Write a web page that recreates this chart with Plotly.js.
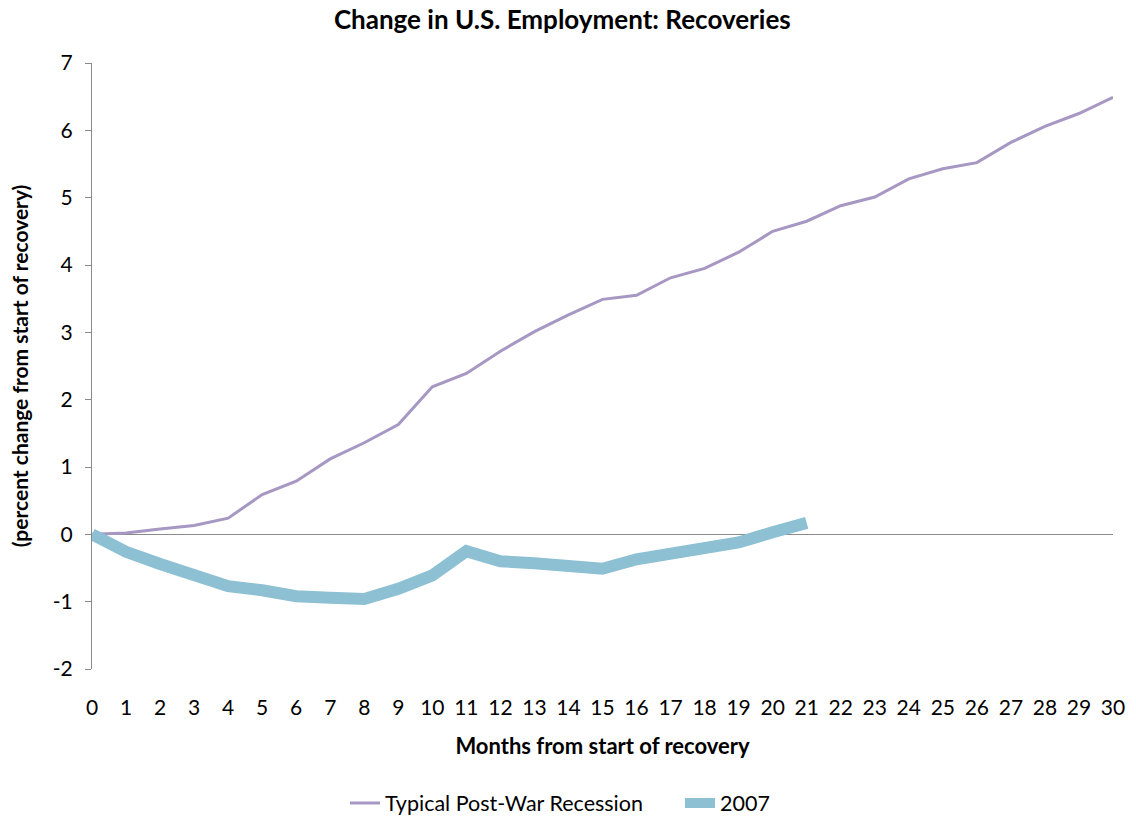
<!DOCTYPE html>
<html>
<head>
<meta charset="utf-8">
<script src="https://cdn.plot.ly/plotly-3.0.1.min.js"></script>
<style>html,body{margin:0;padding:0;background:#fff}#chart{width:1136px;height:821px}</style>
</head>
<body>
<div id="chart"></div>
<script>
const months = [0,1,2,3,4,5,6,7,8,9,10,11,12,13,14,15,16,17,18,19,20,21,22,23,24,25,26,27,28,29,30];
const typicalRecession = [0,0.02,0.08,0.13,0.24,0.59,0.79,1.12,1.36,1.63,2.19,2.39,2.72,3.01,3.26,3.49,3.55,3.81,3.95,4.19,4.50,4.65,4.88,5.01,5.28,5.43,5.52,5.82,6.06,6.25,6.49];
const months2007 = [0,1,2,3,4,5,6,7,8,9,10,11,12,13,14,15,16,17,18,19,20,21];
const recovery2007 = [0,-0.26,-0.44,-0.62,-0.77,-0.83,-0.92,-0.94,-0.96,-0.81,-0.61,-0.25,-0.40,-0.43,-0.47,-0.51,-0.37,-0.29,-0.17,-0.12,0.03,0.17];
const seriesNames = ["Typical Post-War Recession", "2007"];
const xTickVals = months;
const xTickText = months.map(String);
const yTickVals = [-2,-1,0,1,2,3,4,5,6,7];
const yTickText = ["-2","-1","0","1","2","3","4","5","6","7"];

const FONT = "Lato, 'Open Sans', sans-serif";
const traces = [
  {x: months, y: typicalRecession, name: seriesNames[0], mode: "lines",
   line: {color: "#a697c3", width: 3}},
  {x: months2007, y: recovery2007, name: seriesNames[1], mode: "lines",
   line: {color: "#8dc0d3", width: 12}}
];
const layout = {
  width: 1136, height: 821,
  paper_bgcolor: "#fff", plot_bgcolor: "#fff",
  margin: {l: 92, r: 23, t: 63, b: 152},
  font: {family: FONT, color: "#000", size: 21},
  title: {text: "<b>Change in U.S. Employment: Recoveries</b>", font: {size: 26, family: FONT, color: "#000"},
          x: 0.495, xanchor: "center", yref: "container", y: 1 - 20/821, yanchor: "middle"},
  xaxis: {range: [0, 30], tickvals: xTickVals, ticktext: xTickText, showgrid: false, zeroline: false,
          showline: false, ticks: "", tickfont: {size: 21, family: FONT}, fixedrange: true, automargin: false,
          ticklabelstandoff: 24,
          title: {text: "<b>Months from start of recovery</b>", font: {size: 22, family: FONT}, standoff: 20}},
  yaxis: {range: [-2, 7], tickvals: yTickVals, ticktext: yTickText, showgrid: false, zeroline: true, zerolinecolor: "#8a8a8a", zerolinewidth: 1,
          showline: true, linecolor: "#8a8a8a", linewidth: 1, ticks: "outside", ticklen: 6, tickcolor: "#8a8a8a",
          tickfont: {size: 21, family: FONT}, fixedrange: true, automargin: false, ticklabelstandoff: 8,
          title: {text: "<b>(percent change from start of recovery)</b>", font: {size: 21, family: FONT}, standoff: 18}},
  showlegend: true,
  legend: {orientation: "h", x: (345 - 92) / 1021, xanchor: "left", yref: "container", y: 1 - 803/821, yanchor: "middle",
           font: {size: 21.5, family: FONT}, itemwidth: 30, bgcolor: "rgba(0,0,0,0)",
           entrywidth: 290, entrywidthmode: "pixels"}
};
Plotly.newPlot("chart", traces, layout, {displayModeBar: false, staticPlot: true});
</script>
</body>
</html>
